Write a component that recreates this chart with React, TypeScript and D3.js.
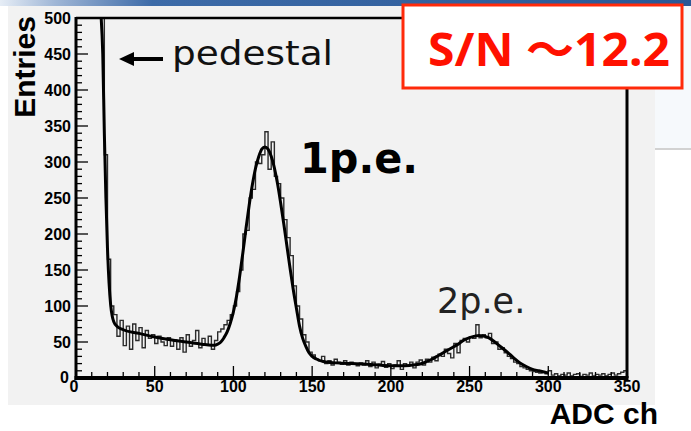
import React from "react";
import * as d3 from "d3";

// Histogram: lower edges of 2-channel bins (ADC ch) and their entries
const binWidth = 2;
const binLow = d3.range(16, 350, 2);
const binCounts = [
  620, 310, 165, 100, 88, 58, 80, 45, 72, 40, 75, 52, 70, 42, 66, 55, 60, 48, 58, 50,
  45, 56, 44, 53, 40, 56, 36, 60, 44, 52, 66, 42, 55, 46, 58, 40, 52, 64, 68, 74,
  80, 88, 100, 120, 150, 200, 205, 250, 262, 300, 298, 310, 342, 290, 328, 280, 270, 250, 220, 195,
  170, 128, 100, 82, 60, 50, 36, 32, 26, 24, 30, 20, 24, 18, 26, 22, 19, 24, 18, 22,
  20, 17, 21, 18, 24, 16, 22, 14, 19, 23, 15, 20, 13, 18, 24, 12, 20, 17, 22, 14,
  22, 25, 18, 26, 22, 29, 24, 33, 30, 40, 34, 28, 48, 35, 52, 55, 50, 57, 55, 74,
  56, 60, 56, 62, 48, 50, 40, 42, 35, 30, 27, 22, 20, 16, 14, 12, 10, 9, 8, 7,
  8, 6, 10, 4, 6, 3, 5, 4, 7, 3, 5, 6, 2, 5, 4, 7, 3, 5, 4, 6,
  3, 5, 7, 4, 6, 8, 10,
];

// Fit function sampled along ADC ch
const fitAdc = [
  16, 17, 18, 19, 20, 21, 22, 23, 24, 26, 30, 40, 50, 60, 70, 80, 86, 88, 90, 92,
  94, 96, 98, 100, 102, 104, 106, 108, 110, 112, 114, 116, 118, 120, 122, 124, 126, 128, 130, 132,
  134, 136, 138, 140, 142, 144, 146, 148, 150, 153, 157, 165, 175, 185, 195, 205, 212, 218, 222, 226,
  230, 234, 238, 242, 246, 250, 254, 256, 258, 262, 266, 270, 274, 278, 282, 286, 290, 294, 298, 300,
];
const fitEntries = [
  520, 450, 340, 250, 180, 132, 102, 86, 78, 72, 67, 62, 57, 53, 50, 47, 45.5, 45.5, 47, 50,
  56, 64, 76, 92, 114, 142, 174, 208, 240, 268, 291, 307, 318, 321, 318, 308, 292, 270, 243, 214,
  183, 152, 123, 97, 72, 55, 44, 35, 30, 26, 23, 21, 20, 19, 17.5, 17, 17.5, 19, 22, 26,
  31, 36, 41, 46, 52, 56, 58.5, 59, 58.5, 56, 50, 43, 36, 28, 21, 16, 12, 10, 8, 7,
];

const xTicks = d3.range(0, 351, 50);
const yTicks = d3.range(0, 501, 50);
const xMinor = d3.range(0, 351, 10);
const yMinor = d3.range(0, 501, 10);

const W = 691;
const H = 431;
const frame = { left: 76, right: 627, top: 18, bottom: 378 };

export default function App() {
  const x = d3.scaleLinear().domain([0, 350]).range([frame.left, frame.right]);
  const y = d3.scaleLinear().domain([0, 500]).range([frame.bottom, frame.top]).clamp(true);

  const histPts: [number, number][] = binLow.map((lo, i) => [lo, binCounts[i]]);
  histPts.push([binLow[binLow.length - 1] + binWidth, binCounts[binCounts.length - 1]]);
  const histPath = d3
    .line<[number, number]>()
    .x((d) => x(d[0]))
    .y((d) => y(d[1]))
    .curve(d3.curveStepAfter)(histPts);

  const fitPath = d3
    .line<number>()
    .x((d) => x(d))
    .y((_, i) => y(fitEntries[i]))
    .curve(d3.curveMonotoneX)(fitAdc);

  const tickFont = "'Liberation Sans', Arial, Helvetica, sans-serif";

  return (
    <svg
      width={W}
      height={H}
      viewBox={`0 0 ${W} ${H}`}
      style={{ position: "absolute", left: 0, top: 0, display: "block" }}
    >
      <defs>
        <linearGradient id="band" x1="0" x2="1" y1="0" y2="0">
          <stop offset="0" stopColor="#e6edf6" />
          <stop offset="0.08" stopColor="#9fb6d6" />
          <stop offset="0.22" stopColor="#3d6ba8" />
          <stop offset="1" stopColor="#2a5896" />
        </linearGradient>
        <clipPath id="plotClip">
          <rect x={frame.left} y={frame.top} width={frame.right - frame.left} height={frame.bottom - frame.top} />
        </clipPath>
      </defs>

      <rect x={0} y={0} width={W} height={H} fill="#ffffff" />
      <rect x={0} y={0} width={W} height={6} fill="url(#band)" />
      <rect x={8} y={6} width={647} height={399} fill="#f2f2f2" />
      <rect x={655} y={6} width={36} height={142} fill="#f6f9fc" />
      <line x1={655} x2={691} y1={149} y2={149} stroke="#d2d2d2" strokeWidth={2} />

      {/* histogram and fit */}
      <g clipPath="url(#plotClip)">
        <path d={histPath ?? ""} fill="none" stroke="#2b2b2b" strokeWidth={1.4} />
        <path d={fitPath ?? ""} fill="none" stroke="#000" strokeWidth={3} strokeLinejoin="round" />
      </g>

      {/* frame */}
      <line x1={frame.left} x2={frame.right} y1={frame.top} y2={frame.top} stroke="#000" strokeWidth={2.5} />
      <line x1={frame.right} x2={frame.right} y1={frame.top} y2={frame.bottom} stroke="#000" strokeWidth={3} />

      {/* y axis ticks */}
      {yMinor.map((v) => (
        <line key={`ym${v}`} x1={frame.left} x2={frame.left + (v % 50 === 0 ? 12 : 6)} y1={y(v)} y2={y(v)} stroke="#000" strokeWidth={1.3} />
      ))}
      {/* x axis ticks */}
      {xMinor.map((v) => (
        <line key={`xm${v}`} x1={x(v)} x2={x(v)} y1={frame.bottom} y2={frame.bottom - (v % 50 === 0 ? 12 : 6)} stroke="#000" strokeWidth={1.3} />
      ))}

      <line x1={frame.left} x2={frame.left} y1={frame.top - 1} y2={frame.bottom + 2} stroke="#000" strokeWidth={3} />
      <line x1={frame.left - 1.5} x2={frame.right + 1.5} y1={frame.bottom} y2={frame.bottom} stroke="#000" strokeWidth={4} />

      {/* tick labels */}
      {yTicks.map((v) => (
        <text key={`yl${v}`} x={v === 0 ? 69 : 71} y={v === 0 ? y(v) - 1 : y(v)} dy="0.36em" textAnchor="end" fontFamily={tickFont} fontWeight="bold" fontSize={16} fill="#000">
          {v}
        </text>
      ))}
      {xTicks.map((v) => (
        <text key={`xl${v}`} x={v === 0 ? x(v) - 2 : x(v)} y={392} textAnchor="middle" fontFamily={tickFont} fontWeight="bold" fontSize={16} fill="#000">
          {v}
        </text>
      ))}

      {/* axis titles */}
      <text
        transform={`translate(35,67) rotate(-90)`}
        textAnchor="middle"
        fontFamily={tickFont}
        fontWeight="bold"
        fontSize={30}
        fill="#000"
      >
        Entries
      </text>
      <text x={658} y={424} textAnchor="end" fontFamily={tickFont} fontWeight="bold" fontSize={30} fill="#000">
        ADC ch
      </text>

      {/* annotations */}
      <line x1={131} x2={163} y1={59} y2={59} stroke="#000" strokeWidth={4} />
      <path d="M119,59 L134,52 L134,66 Z" fill="#000" />
      <text x={172} y={65} fontFamily="'DejaVu Sans', sans-serif" fontSize={34} fill="#111" textLength={161} lengthAdjust="spacingAndGlyphs">
        pedestal
      </text>
      <text x={300} y={173} fontFamily="'DejaVu Sans', sans-serif" fontWeight="bold" fontSize={43} fill="#000" textLength={118} lengthAdjust="spacingAndGlyphs">
        1p.e.
      </text>
      <text x={437} y={313} fontFamily="'DejaVu Sans', sans-serif" fontSize={35} fill="#222">
        2p.e.
      </text>

      {/* S/N box */}
      <rect x={403} y={5} width={279} height={83} fill="#ffffff" stroke="#ff2a0a" strokeWidth={3} />
      <text x={428} y={66} fontFamily="'Noto Sans', 'Noto Sans CJK JP', sans-serif" fontWeight="bold" fontSize={46} fill="#ff1100" textLength={242} lengthAdjust="spacingAndGlyphs">
        S/N ～12.2
      </text>
    </svg>
  );
}
